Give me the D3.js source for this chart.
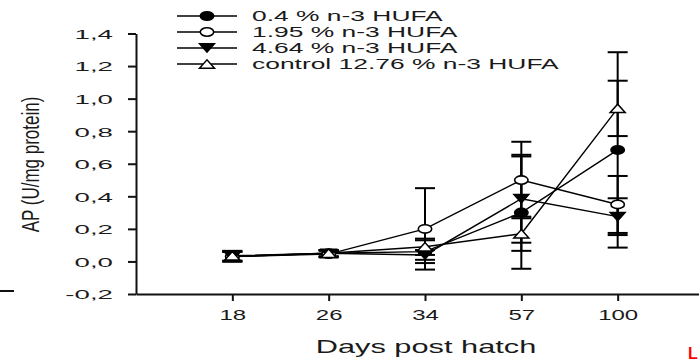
<!DOCTYPE html>
<html>
<head>
<meta charset="utf-8">
<script src="https://cdn.jsdelivr.net/npm/d3@7/dist/d3.min.js"></script>
<style>
  html, body { margin: 0; padding: 0; background: #fff; }
  svg { display: block; font-family: "Liberation Sans", Arial, sans-serif; }
</style>
</head>
<body>
<svg id="chart" width="699" height="361"></svg>
<script>
// Sampling days (categorical axis)
const days = ["18", "26", "34", "57", "100"];

// Alkaline phosphatase activity, mean and error per diet
const seriesNames = ["0.4 % n-3 HUFA", "1.95 % n-3 HUFA", "4.64 % n-3 HUFA", "control 12.76 % n-3 HUFA"];
const meanHufa04   = [0.030, 0.050, 0.060, 0.300, 0.685];
const errHufa04    = [0.030, 0.020, 0.070, 0.345, 0.600];
const meanHufa195  = [0.030, 0.045, 0.200, 0.500, 0.350];
const errHufa195   = [0.030, 0.020, 0.250, 0.235, 0.175];
const meanHufa464  = [0.030, 0.050, 0.040, 0.385, 0.275];
const errHufa464   = [0.030, 0.020, 0.030, 0.270, 0.113];
const meanControl  = [0.035, 0.050, 0.090, 0.170, 0.940];
const errControl   = [0.030, 0.020, 0.050, 0.105, 0.170];

// Y tick values
const yTicks = [-0.2, 0.0, 0.2, 0.4, 0.6, 0.8, 1.0, 1.2, 1.4];

const markerTypes = ["filledCircle", "openCircle", "filledDown", "openUp"];
const series = seriesNames.map((name, i) => ({
  name,
  marker: markerTypes[i],
  values: days.map((d, j) => ({
    day: d,
    mean: [meanHufa04, meanHufa195, meanHufa464, meanControl][i][j],
    err:  [errHufa04, errHufa195, errHufa464, errControl][i][j]
  }))
}));

const svg = d3.select("#chart");

const x = d3.scalePoint().domain(days).range([136, 714]).padding(1);
const y = d3.scaleLinear().domain([-0.2, 1.4]).range([294, 33.5]);

const fmt = v => d3.format(".1f")(v).replace("\u2212", "-").replace(".", ",");

// Y axis
const yAxisG = svg.append("g")
  .attr("transform", "translate(136,0)")
  .call(d3.axisLeft(y).tickValues(yTicks).tickFormat(fmt).tickSize(8).tickSizeOuter(0));
yAxisG.select(".domain").attr("stroke", "#111").attr("stroke-width", 2);
yAxisG.selectAll(".tick line").attr("stroke", "#111").attr("stroke-width", 2);
const yTickStretch = 2.05;
yAxisG.selectAll(".tick text")
  .attr("font-size", 13.5)
  .attr("font-family", "Liberation Sans, Arial, sans-serif")
  .attr("fill", "#1a1a1a")
  .attr("x", -23 / yTickStretch)
  .attr("dy", "0.36em")
  .attr("transform", `scale(${yTickStretch},1)`);

// X axis
const xAxisG = svg.append("g")
  .attr("transform", "translate(0,294)")
  .call(d3.axisBottom(x).tickSize(7).tickSizeOuter(0).tickPadding(9));
xAxisG.select(".domain").attr("stroke", "#111").attr("stroke-width", 2);
xAxisG.selectAll(".tick line").attr("stroke", "#111").attr("stroke-width", 2);
const xTickStretch = 1.6;
xAxisG.selectAll(".tick text")
  .attr("font-size", 15)
  .attr("font-family", "Liberation Sans, Arial, sans-serif")
  .attr("fill", "#1a1a1a")
  .attr("y", 0)
  .attr("dy", 0)
  .attr("transform", `translate(0,26) scale(${xTickStretch},1)`);

// Axis titles
svg.append("text")
  .attr("transform", "translate(426,353) scale(1.62,1)")
  .attr("text-anchor", "middle")
  .attr("font-size", 19)
  .attr("fill", "#1a1a1a")
  .text("Days post hatch");

svg.append("text")
  .attr("transform", "translate(31,164.5) scale(1.4,1) rotate(-90)")
  .attr("text-anchor", "middle")
  .attr("dy", "0.35em")
  .attr("font-size", 17)
  .attr("fill", "#1a1a1a")
  .text("AP (U/mg protein)");

// Marker drawing
function drawMarker(g, type, cx, cy) {
  const w = 7.5, h = 4.2;
  if (type === "filledCircle" || type === "openCircle") {
    g.append("ellipse")
      .attr("cx", cx).attr("cy", cy)
      .attr("rx", w - 0.8).attr("ry", h)
      .attr("fill", type === "filledCircle" ? "#000" : "#fff")
      .attr("stroke", "#000").attr("stroke-width", 1.6);
  } else if (type === "filledDown") {
    g.append("path")
      .attr("d", `M${cx - w},${cy - h}L${cx + w},${cy - h}L${cx},${cy + h}Z`)
      .attr("fill", "#000").attr("stroke", "#000").attr("stroke-width", 1.4);
  } else {
    g.append("path")
      .attr("d", `M${cx - w},${cy + h}L${cx + w},${cy + h}L${cx},${cy - h}Z`)
      .attr("fill", "#fff").attr("stroke", "#000").attr("stroke-width", 1.5);
  }
}

const plot = svg.append("g");
const line = d3.line().x(d => x(d.day)).y(d => y(d.mean));

// Connecting lines
plot.selectAll("path.series")
  .data(series)
  .join("path")
  .attr("class", "series")
  .attr("d", d => line(d.values))
  .attr("fill", "none")
  .attr("stroke", "#000")
  .attr("stroke-width", 1.4);

// Error bars
const capHalf = 10;
series.forEach(s => {
  const eg = plot.append("g");
  s.values.forEach(v => {
    const cx = x(v.day);
    const y0 = y(v.mean - v.err), y1 = y(v.mean + v.err);
    eg.append("line").attr("x1", cx).attr("x2", cx).attr("y1", y0).attr("y2", y1)
      .attr("stroke", "#000").attr("stroke-width", 2);
    [y0, y1].forEach(yy => eg.append("line")
      .attr("x1", cx - capHalf).attr("x2", cx + capHalf).attr("y1", yy).attr("y2", yy)
      .attr("stroke", "#000").attr("stroke-width", 2));
  });
});

// Markers
series.forEach(s => {
  const mg = plot.append("g");
  s.values.forEach(v => drawMarker(mg, s.marker, x(v.day), y(v.mean)));
});

// Legend
const legendRows = [16, 32, 48, 64];
const legend = svg.append("g");
series.forEach((s, i) => {
  const ly = legendRows[i];
  legend.append("line")
    .attr("x1", 177).attr("x2", 237).attr("y1", ly).attr("y2", ly)
    .attr("stroke", "#000").attr("stroke-width", 1.6);
  drawMarker(legend, s.marker, 207, ly);
  legend.append("text")
    .attr("transform", `translate(252,${ly}) scale(1.76,1)`)
    .attr("dy", "0.36em")
    .attr("font-size", 15)
    .attr("fill", "#1a1a1a")
    .text(s.name);
});

// Margin marks
svg.append("line")
  .attr("x1", 0).attr("x2", 14).attr("y1", 291).attr("y2", 291)
  .attr("stroke", "#111").attr("stroke-width", 2);
svg.append("text")
  .attr("x", 688).attr("y", 359)
  .attr("font-size", 16).attr("font-weight", "bold")
  .attr("fill", "#ff0000")
  .text("L");
</script>
</body>
</html>
